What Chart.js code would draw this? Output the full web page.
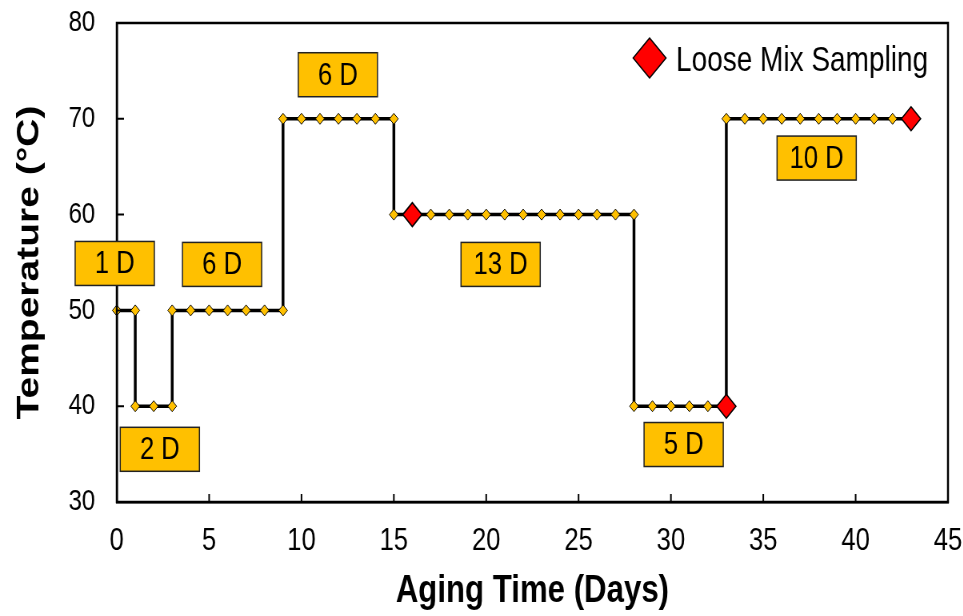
<!DOCTYPE html>
<html>
<head>
<meta charset="utf-8">
<script src="https://cdn.jsdelivr.net/npm/chart.js@4.4.1/dist/chart.umd.min.js"></script>
<style>
html, body { margin: 0; padding: 0; background: #fff; overflow: hidden; }
#wrap { width: 963px; height: 616px; overflow: hidden; }
#chart { transform: scaleX(0.8); transform-origin: 0 0; display: block; }
</style>
</head>
<body>
<div id="wrap"><canvas id="chart" width="1204" height="616"></canvas></div>
<script>
// aging schedule (step corners listed twice)
var days  = [0, 1, 1, 2, 3, 3, 4, 5, 6, 7, 8, 9,
             9, 10, 11, 12, 13, 14, 15,
             15, 16, 17, 18, 19, 20, 21, 22, 23, 24, 25, 26, 27, 28,
             28, 29, 30, 31, 32, 33,
             33, 34, 35, 36, 37, 38, 39, 40, 41, 42, 43];
var temps = [50, 50, 40, 40, 40, 50, 50, 50, 50, 50, 50, 50,
             70, 70, 70, 70, 70, 70, 70,
             60, 60, 60, 60, 60, 60, 60, 60, 60, 60, 60, 60, 60, 60,
             40, 40, 40, 40, 40, 40,
             70, 70, 70, 70, 70, 70, 70, 70, 70, 70, 70];

var sampleDays  = [16, 33, 43];
var sampleTemps = [60, 40, 70];

var stageLabels = ['1 D', '2 D', '6 D', '6 D', '13 D', '5 D', '10 D'];

// where each stage box sits (data units)
var stageAnchors = [[-0.11, 54.9], [2.33, 35.5], [5.70, 54.8], [11.97, 74.6],
                    [20.78, 54.8], [30.69, 36.0], [37.89, 65.9]];

var FONT = 'Liberation Sans, Arial, sans-serif';

function toPoints(xs, ys) {
  var out = [];
  for (var i = 0; i < xs.length; i++) out.push({x: xs[i], y: ys[i]});
  return out;
}

function noPad(s) {
  s.paddingTop = 0; s.paddingBottom = 0; s.paddingLeft = 0; s.paddingRight = 0;
}

var decor = {
  id: 'decor',
  afterDraw: function(chart) {
    var ctx = chart.ctx, a = chart.chartArea;
    var x = chart.scales.x, y = chart.scales.y;
    ctx.save();
    ctx.strokeStyle = '#000';
    ctx.lineWidth = 2.5;
    ctx.strokeRect(a.left, a.top, a.right - a.left, a.bottom - a.top);

    // inside tick marks
    ctx.lineWidth = 2;
    ctx.beginPath();
    x.ticks.forEach(function(t) {
      var px = x.getPixelForValue(t.value);
      ctx.moveTo(px, a.bottom); ctx.lineTo(px, a.bottom - 8);
    });
    y.ticks.forEach(function(t) {
      var py = y.getPixelForValue(t.value);
      ctx.moveTo(a.left, py); ctx.lineTo(a.left + 9, py);
    });
    ctx.stroke();

    // stage boxes
    var bw = 99, bh = 44;
    ctx.font = '32px ' + FONT;
    ctx.textAlign = 'center';
    ctx.textBaseline = 'middle';
    for (var i = 0; i < stageLabels.length; i++) {
      var cx = x.getPixelForValue(stageAnchors[i][0]);
      var cy = y.getPixelForValue(stageAnchors[i][1]);
      ctx.fillStyle = '#FFC000';
      ctx.fillRect(cx - bw / 2, cy - bh / 2, bw, bh);
      ctx.lineWidth = 1.5;
      ctx.strokeStyle = '#222';
      ctx.strokeRect(cx - bw / 2, cy - bh / 2, bw, bh);
      ctx.fillStyle = '#000';
      ctx.fillText(stageLabels[i], cx, cy + 1);
    }

    // legend
    var lx = 812, ly = 58;
    ctx.beginPath();
    ctx.moveTo(lx, ly - 20);
    ctx.lineTo(lx + 20.5, ly);
    ctx.lineTo(lx, ly + 20);
    ctx.lineTo(lx - 20.5, ly);
    ctx.closePath();
    ctx.fillStyle = '#FF0000';
    ctx.fill();
    ctx.lineWidth = 1.5;
    ctx.strokeStyle = '#000';
    ctx.stroke();
    ctx.fillStyle = '#000';
    ctx.font = '35px ' + FONT;
    ctx.textAlign = 'left';
    ctx.fillText('Loose Mix Sampling', 845, 61);
    ctx.restore();
  }
};

var chart = new Chart(document.getElementById('chart'), {
  type: 'line',
  data: {
    datasets: [
      {
        label: 'Loose Mix Sampling',
        data: toPoints(sampleDays, sampleTemps),
        showLine: false,
        pointStyle: 'rectRot',
        pointRadius: 12,
        pointBackgroundColor: '#FF0000',
        pointBorderColor: '#000',
        pointBorderWidth: 1.5,
        clip: false,
        order: 0
      },
      {
        label: 'Temperature',
        data: toPoints(days, temps),
        borderColor: '#000',
        borderWidth: 3.5,
        tension: 0,
        pointStyle: 'rectRot',
        pointRadius: 5.5,
        pointBackgroundColor: '#FFC000',
        pointBorderColor: '#000',
        pointBorderWidth: 1,
        clip: false,
        order: 1
      }
    ]
  },
  options: {
    responsive: false,
    animation: false,
    devicePixelRatio: 1,
    layout: { padding: { top: 23, right: 19, left: 0, bottom: 0 } },
    plugins: { legend: { display: false }, tooltip: { enabled: false } },
    scales: {
      x: {
        type: 'linear',
        min: 0, max: 45,
        ticks: { stepSize: 5, color: '#000', padding: 20, font: { family: FONT, size: 32 } },
        grid: { drawOnChartArea: false, drawTicks: false },
        border: { display: true, color: '#000', width: 2.5 },
        title: { display: true, text: 'Aging Time (Days)', color: '#000',
                 font: { family: FONT, size: 39, weight: 'bold' }, padding: { top: 0, bottom: 1 } },
        afterFit: function(s) { s.height = 114; noPad(s); }
      },
      y: {
        min: 30, max: 80,
        ticks: { stepSize: 10, color: '#000', padding: 27, font: { family: FONT, size: 30 } },
        grid: { drawOnChartArea: false, drawTicks: false },
        border: { display: true, color: '#000', width: 2.5 },
        title: { display: true, text: 'Temperature (°C)', color: '#000',
                 font: { family: FONT, size: 39, weight: 'bold' }, padding: { top: 14, bottom: 0 } },
        afterFit: function(s) { s.width = 146; noPad(s); }
      }
    }
  },
  plugins: [decor]
});
</script>
</body>
</html>
